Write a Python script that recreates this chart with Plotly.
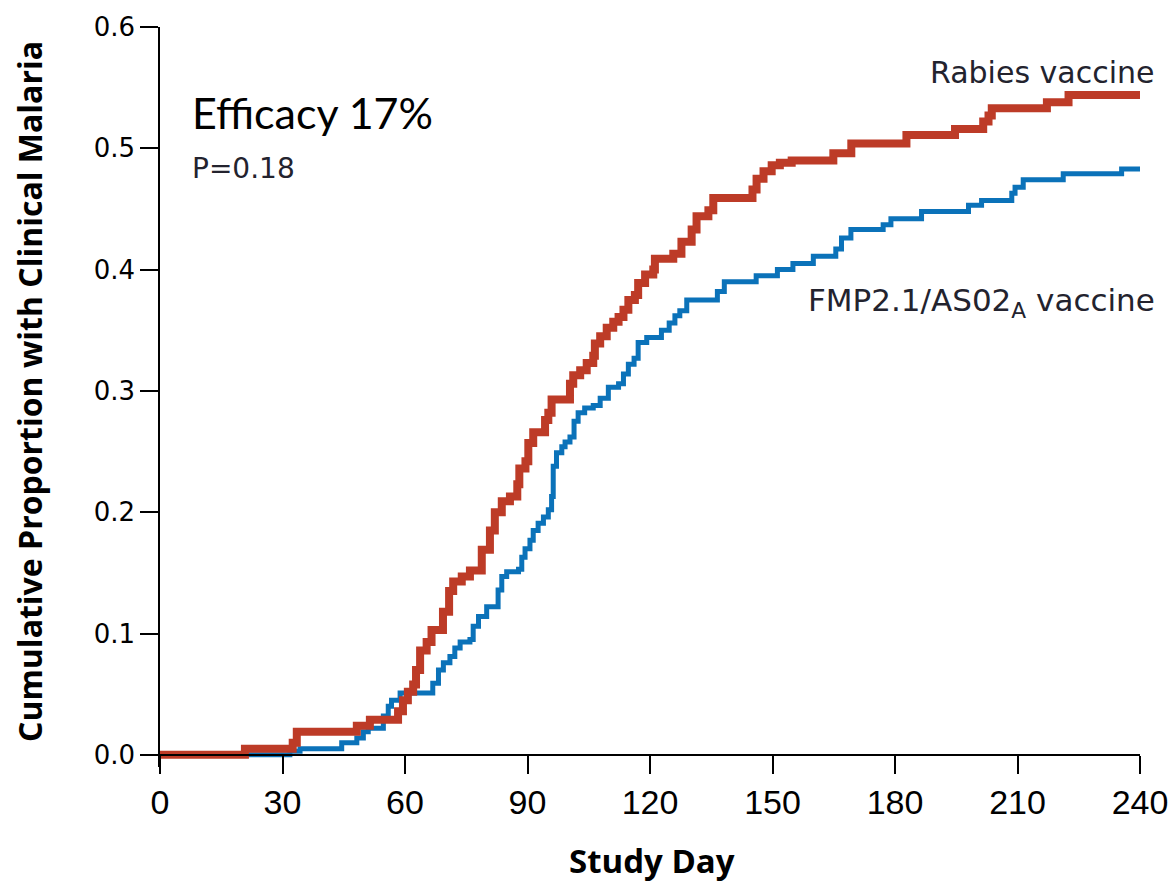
import plotly.graph_objects as go

# Kaplan-Meier style cumulative incidence (step) data
rabies_day = [0, 20.8, 32.5, 33.5, 48.2, 51.4, 58.3, 59.5, 60.7, 62.0, 62.7, 63.7, 65.3, 66.5,
              69.3, 70.8, 71.8, 73.9, 75.9, 78.8, 80.8, 82.0, 83.7, 85.7, 87.5, 88.0, 89.5,
              90.2, 91.4, 94.3, 95.1, 95.9, 100.4, 101.2, 102.9, 104.5, 106.1, 106.5, 107.8,
              109.4, 111.0, 112.3, 113.5, 114.7, 116.3, 117.1, 118.8, 120.8, 121.2, 125.7,
              127.7, 130.2, 131.4, 134.3, 135.5, 145.1, 146.1, 147.8, 149.8, 151.8, 154.7,
              164.9, 169.3, 182.8, 194.7, 201.6, 202.9, 203.7, 217.2, 222.5, 240]
rabies_val = [0, 0.005, 0.010, 0.019, 0.024, 0.029, 0.036, 0.045, 0.052, 0.058, 0.070, 0.086,
              0.093, 0.103, 0.118, 0.135, 0.143, 0.147, 0.152, 0.169, 0.185, 0.200, 0.209,
              0.213, 0.223, 0.236, 0.242, 0.257, 0.266, 0.276, 0.282, 0.293, 0.306, 0.313,
              0.317, 0.323, 0.329, 0.339, 0.345, 0.352, 0.357, 0.361, 0.367, 0.375, 0.379,
              0.389, 0.396, 0.400, 0.409, 0.413, 0.423, 0.433, 0.444, 0.449, 0.459, 0.466,
              0.475, 0.481, 0.486, 0.488, 0.490, 0.496, 0.504, 0.511, 0.516, 0.522, 0.527,
              0.533, 0.538, 0.544, 0.544]

fmp_day = [0, 31.8, 34.3, 44.5, 48.2, 49.8, 51.0, 54.7, 55.9, 56.7, 58.8, 66.8, 68.2, 69.4,
           71.0, 72.2, 73.5, 75.9, 76.7, 78.0, 80.0, 82.8, 83.7, 84.9, 87.8, 88.6, 89.4, 90.6,
           91.4, 92.6, 93.9, 95.1, 95.9, 96.3, 97.1, 98.4, 99.2, 100.4, 101.4, 102.4, 104.0,
           106.1, 107.8, 109.8, 112.3, 113.5, 114.7, 116.1, 117.1, 119.2, 122.8, 124.7, 126.1,
           127.3, 129.0, 136.5, 138.2, 146.0, 151.2, 155.0, 160.0, 165.5, 166.9, 169.2, 177.1,
           179.0, 186.5, 198.0, 201.2, 208.6, 209.4, 211.4, 221.2, 235.5, 240]
fmp_val = [0, 0.003, 0.005, 0.010, 0.014, 0.019, 0.022, 0.032, 0.040, 0.045, 0.051, 0.059,
           0.070, 0.076, 0.081, 0.088, 0.093, 0.095, 0.106, 0.114, 0.122, 0.136, 0.147, 0.151,
           0.153, 0.163, 0.170, 0.177, 0.185, 0.191, 0.196, 0.202, 0.213, 0.238, 0.249, 0.254,
           0.258, 0.262, 0.275, 0.282, 0.286, 0.288, 0.294, 0.303, 0.306, 0.314, 0.322, 0.327,
           0.340, 0.344, 0.350, 0.356, 0.362, 0.366, 0.375, 0.382, 0.390, 0.395, 0.400, 0.405,
           0.411, 0.417, 0.426, 0.433, 0.437, 0.442, 0.448, 0.453, 0.457, 0.463, 0.468, 0.474,
           0.479, 0.483, 0.483]

x_ticks = [0, 30, 60, 90, 120, 150, 180, 210, 240]
y_ticks = [0.0, 0.1, 0.2, 0.3, 0.4, 0.5, 0.6]
y_tick_text = ["0.0", "0.1", "0.2", "0.3", "0.4", "0.5", "0.6"]

RED = "#BD3B27"
BLUE = "#0B72B9"
LABEL = "#23232e"

y_min, y_max = -0.01, 0.6

fig = go.Figure()
fig.add_trace(go.Scatter(x=fmp_day, y=fmp_val, mode="lines", line_shape="hv",
                         line=dict(color=BLUE, width=5), name="FMP2.1/AS02A vaccine"))
fig.add_trace(go.Scatter(x=rabies_day, y=rabies_val, mode="lines", line_shape="hv",
                         line=dict(color=RED, width=8), name="Rabies vaccine"))

fig.update_layout(
    width=1173, height=883,
    margin=dict(l=160, r=33, t=27, b=116, autoexpand=False),
    paper_bgcolor="white", plot_bgcolor="white",
    showlegend=False,
    xaxis=dict(range=[0, 240], tickvals=x_ticks, ticktext=[str(t) for t in x_ticks],
               showline=True, linecolor="black", linewidth=1.5,
               ticks="outside", ticklen=18, tickwidth=1.5, tickcolor="black",
               showgrid=False, zeroline=False,
               anchor="free", position=(0 - y_min) / (y_max - y_min),
               tickfont=dict(family="Liberation Sans Narrow, Arial Narrow, sans-serif", size=34, color="black")),
    yaxis=dict(range=[y_min, y_max], tickvals=y_ticks, ticktext=y_tick_text,
               showline=True, linecolor="black", linewidth=1.5,
               ticks="outside", ticklen=18, tickwidth=1.5, tickcolor="black",
               showgrid=False, zeroline=False,
               tickfont=dict(family="DejaVu Sans, sans-serif", size=26, color="black")),
)

# axis titles as annotations for precise placement
fig.add_annotation(text="<b>Cumulative Proportion with Clinical Malaria</b>",
                   xref="paper", yref="paper", x=(30 - 160) / 980, y=(767 - 392) / 740,
                   textangle=-90, showarrow=False, xanchor="center", yanchor="middle",
                   font=dict(family="Open Sans, sans-serif", size=32, color="black"))
fig.add_annotation(text="<b>Study Day</b>",
                   xref="paper", yref="paper", x=(652 - 160) / 980, y=(767 - 860) / 740,
                   showarrow=False, xanchor="center", yanchor="middle",
                   font=dict(family="Open Sans, sans-serif", size=33, color="black"))

fig.add_annotation(text="Efficacy 17%", xref="paper", yref="paper",
                   x=(190 - 160) / 980, y=(767 - 112) / 740, showarrow=False,
                   xanchor="left", yanchor="middle",
                   font=dict(family="Lato, sans-serif", size=43, color="black"))
fig.add_annotation(text="P=0.18", xref="paper", yref="paper",
                   x=(190 - 160) / 980, y=(767 - 168) / 740, showarrow=False,
                   xanchor="left", yanchor="middle",
                   font=dict(family="DejaVu Sans, sans-serif", size=28, color=LABEL))
fig.add_annotation(text="Rabies vaccine", xref="paper", yref="paper",
                   x=(1157 - 160) / 980, y=(767 - 72) / 740, showarrow=False,
                   xanchor="right", yanchor="middle",
                   font=dict(family="DejaVu Sans, sans-serif", size=30, color=LABEL))
fig.add_annotation(text="FMP2.1/AS02<sub>A</sub> vaccine", xref="paper", yref="paper",
                   x=(1157 - 160) / 980, y=(767 - 302) / 740, showarrow=False,
                   xanchor="right", yanchor="middle",
                   font=dict(family="DejaVu Sans, sans-serif", size=31, color=LABEL))

fig.write_html("out.html")
